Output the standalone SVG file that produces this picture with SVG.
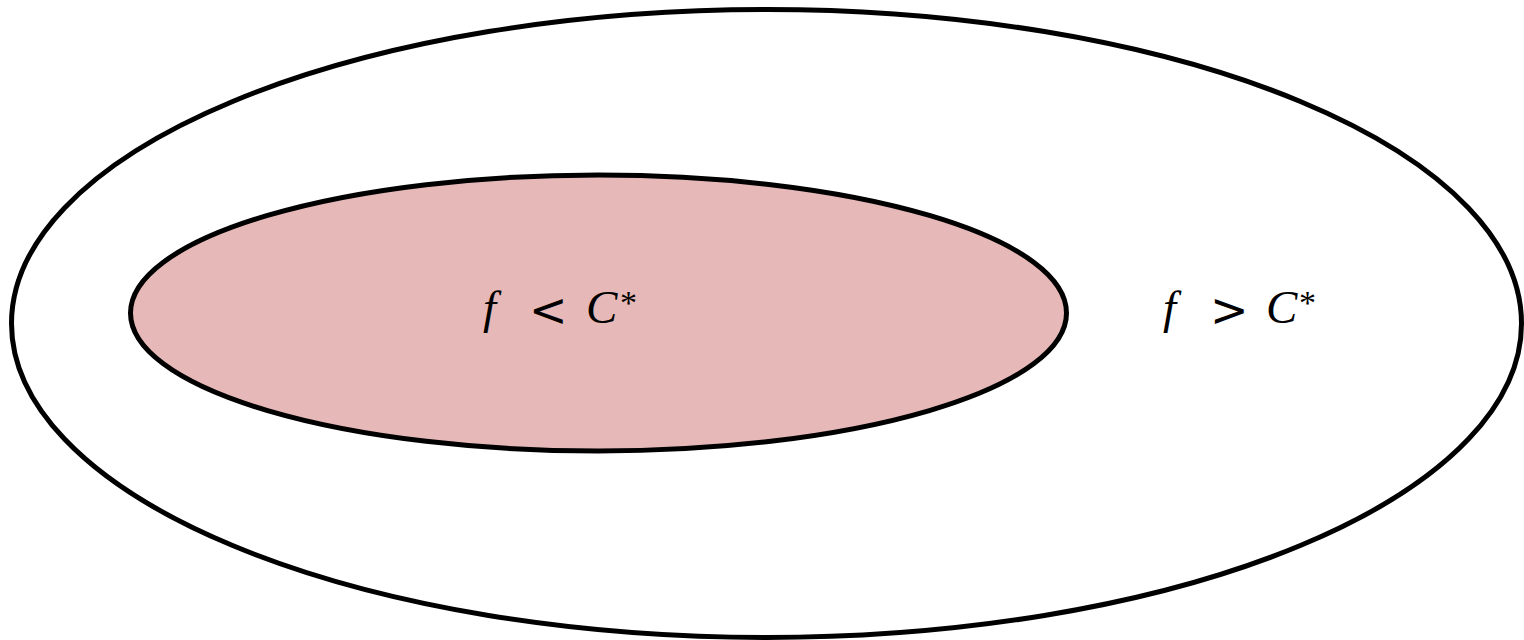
<svg xmlns="http://www.w3.org/2000/svg" width="1524" height="640" viewBox="0 0 1524 640">
<style>
.ell{stroke:#000;stroke-width:5}
.lbl{font-family:"Liberation Serif","DejaVu Serif",serif;font-size:47px;fill:#000}
.it{font-style:italic}
.op{font-family:"DejaVu Sans",sans-serif;font-size:46px}
.sup{font-size:34px}
</style>
<rect width="1524" height="640" fill="#fff"/>
<g id="outer">
<ellipse class="ell" cx="766.5" cy="323.5" rx="755" ry="314" fill="#fff"/>
<text class="lbl" y="323"><tspan class="it" x="1163">f</tspan><tspan class="op" x="1210" y="326">&gt;</tspan><tspan class="it" x="1266" y="323">C</tspan><tspan class="sup" x="1299" y="314">*</tspan></text>
</g>
<g id="inner">
<ellipse class="ell" cx="598.5" cy="313" rx="468" ry="138" fill="#e6b8b7"/>
<text class="lbl" y="323"><tspan class="it" x="483">f</tspan><tspan class="op" x="529" y="326">&lt;</tspan><tspan class="it" x="586" y="323">C</tspan><tspan class="sup" x="620" y="314">*</tspan></text>
</g>
<g id="connectors"/>
</svg>
